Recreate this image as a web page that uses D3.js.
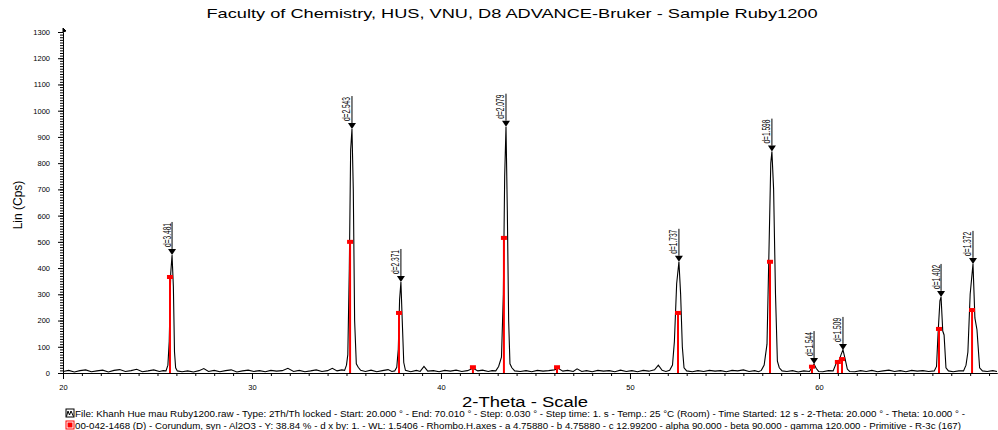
<!DOCTYPE html>
<html>
<head>
<meta charset="utf-8">
<script src="https://cdn.jsdelivr.net/npm/d3@7"></script>
<style>
  body { margin: 0; background: #fff; }
  text { font-family: "Liberation Sans", Arial, sans-serif; fill: #000; }
</style>
</head>
<body>
<script>
// ---- data ----
const title = "Faculty of Chemistry, HUS, VNU, D8 ADVANCE-Bruker - Sample Ruby1200";
const xTitle = "2-Theta - Scale";
const yTitle = "Lin (Cps)";
const legendLines = [
  "File: Khanh Hue mau Ruby1200.raw - Type: 2Th/Th locked - Start: 20.000 ° - End: 70.010 ° - Step: 0.030 ° - Step time: 1. s - Temp.: 25 °C (Room) - Time Started: 12 s - 2-Theta: 20.000 ° - Theta: 10.000 ° -",
  "00-042-1468 (D) - Corundum, syn - Al2O3 - Y: 38.84 % - d x by: 1. - WL: 1.5406 - Rhombo.H.axes - a 4.75880 - b 4.75880 - c 12.99200 - alpha 90.000 - beta 90.000 - gamma 120.000 - Primitive - R-3c (167)"
];

const xMajor = [20, 30, 40, 50, 60];
const yMajor = [0, 100, 200, 300, 400, 500, 600, 700, 800, 900, 1000, 1100, 1200, 1300];

// measured scan (2-theta, counts)
const scan = [
  [20.0, 6], [20.3, 10], [20.6, 4], [20.9, 9], [21.2, 12], [21.5, 5], [21.8, 8], [22.1, 11], [22.4, 4],
  [22.7, 10], [23.0, 13], [23.3, 6], [23.6, 9], [23.9, 14], [24.2, 5], [24.5, 8], [24.8, 12], [25.1, 6],
  [25.3, 9], [25.45, 8], [25.55, 30], [25.62, 120], [25.7, 380], [25.77, 450], [25.84, 330], [25.9, 80],
  [25.96, 20], [26.05, 8], [26.3, 5], [26.6, 8], [26.9, 4], [27.2, 9], [27.45, 17], [27.7, 6], [28.0, 10],
  [28.3, 5], [28.6, 9], [28.9, 12], [29.2, 4], [29.5, 8], [29.8, 11], [30.1, 6], [30.4, 9], [30.7, 5],
  [31.0, 10], [31.3, 7], [31.6, 9], [31.9, 18], [32.2, 6], [32.5, 10], [32.8, 5], [33.1, 8], [33.4, 12],
  [33.7, 6], [34.0, 9], [34.25, 18], [34.5, 8], [34.75, 12], [34.9, 10], [35.0, 30], [35.07, 70],
  [35.15, 400], [35.22, 850], [35.29, 930], [35.36, 700], [35.43, 200], [35.52, 35], [35.62, 22],
  [35.75, 10], [36.0, 6], [36.3, 11], [36.6, 5], [36.9, 9], [37.2, 13], [37.4, 6], [37.55, 8], [37.66, 22],
  [37.74, 90], [37.81, 280], [37.88, 347], [37.95, 200], [38.03, 40], [38.12, 10], [38.4, 5], [38.7, 10],
  [38.9, 6], [39.1, 25], [39.3, 7], [39.6, 9], [39.9, 5], [40.2, 10], [40.5, 7], [40.8, 11], [41.1, 6],
  [41.4, 9], [41.7, 18], [41.95, 8], [42.2, 11], [42.5, 6], [42.7, 9], [42.9, 8], [43.05, 25], [43.2, 60],
  [43.3, 300], [43.37, 750], [43.44, 939], [43.51, 620], [43.58, 200], [43.65, 35], [43.75, 20], [43.9, 8],
  [44.2, 6], [44.5, 9], [44.8, 5], [45.1, 10], [45.4, 7], [45.7, 9], [46.0, 12], [46.2, 18], [46.45, 7],
  [46.7, 10], [47.0, 6], [47.2, 16], [47.45, 6], [47.7, 9], [48.0, 5], [48.3, 10], [48.6, 7], [48.9, 9],
  [49.2, 5], [49.5, 11], [49.8, 6], [50.1, 9], [50.4, 5], [50.7, 10], [51.0, 7], [51.3, 12], [51.5, 30],
  [51.7, 10], [51.9, 6], [52.1, 10], [52.25, 30], [52.35, 120], [52.47, 340], [52.59, 424], [52.68, 300],
  [52.77, 100], [52.86, 20], [53.0, 8], [53.3, 5], [53.6, 9], [53.9, 6], [54.2, 10], [54.5, 7], [54.8, 9],
  [55.1, 5], [55.4, 10], [55.7, 8], [56.0, 12], [56.3, 6], [56.6, 9], [56.8, 5], [56.95, 10], [57.1, 30],
  [57.25, 110], [57.35, 450], [57.45, 800], [57.51, 844], [57.6, 700], [57.7, 300], [57.8, 45], [57.9, 20],
  [58.05, 8], [58.3, 6], [58.6, 9], [58.9, 4], [59.2, 8], [59.5, 6], [59.62, 20], [59.74, 34], [59.85, 18],
  [59.98, 6], [60.2, 5], [60.5, 9], [60.75, 8], [60.9, 35], [61.05, 45], [61.17, 70], [61.27, 88],
  [61.38, 55], [61.5, 15], [61.62, 6], [61.9, 5], [62.2, 9], [62.5, 6], [62.8, 10], [63.1, 5], [63.4, 8],
  [63.7, 11], [64.0, 6], [64.3, 9], [64.6, 5], [64.9, 10], [65.2, 7], [65.5, 9], [65.8, 6], [66.1, 8],
  [66.22, 25], [66.3, 150], [66.4, 275], [66.46, 290], [66.55, 160], [66.62, 145], [66.72, 20], [66.85, 8],
  [67.1, 5], [67.4, 8], [67.65, 8], [67.78, 30], [67.88, 80], [68.0, 300], [68.15, 416], [68.25, 210],
  [68.36, 165], [68.5, 20], [68.65, 8], [68.9, 6], [69.2, 9], [69.42, 6]
];

// labelled peaks
const peakPos = [25.77, 35.29, 37.88, 43.44, 52.59, 57.51, 59.74, 61.27, 66.46, 68.15];
const peakTop = [450, 930, 347, 939, 424, 844, 34, 88, 290, 416];
const peakD = ["d=3.481", "d=2.543", "d=2.371", "d=2.079", "d=1.737", "d=1.598", "d=1.544", "d=1.509", "d=1.402", "d=1.372"];

// Corundum 00-042-1468 reference sticks
const refPos = [25.66, 35.19, 37.78, 41.69, 43.33, 46.14, 52.54, 57.41, 59.63, 61.0, 61.22, 66.35, 68.1];
const refInt = [366, 500, 229, 22, 515, 22, 229, 424, 24, 42, 53, 168, 240];

// ---- drawing ----
const W = 998, H = 430;
const svg = d3.select("body").append("svg")
  .attr("width", W).attr("height", H);

const x = d3.scaleLinear().domain([20, 69.42]).range([63, 997]);
const y = d3.scaleLinear().domain([0, 1300]).range([373, 32]);

svg.append("text")
  .attr("x", 512).attr("y", 18)
  .attr("text-anchor", "middle")
  .attr("textLength", 611).attr("lengthAdjust", "spacingAndGlyphs")
  .style("font-size", "13.5px")
  .text(title);

// x axis: minor ticks every degree, major every 10
svg.append("g").attr("transform", "translate(0,373)")
  .call(d3.axisBottom(x).tickValues(d3.range(20, 70, 1)).tickSize(3).tickSizeOuter(0).tickFormat(""));
const xAx = svg.append("g").attr("transform", "translate(0,373)")
  .call(d3.axisBottom(x).tickValues(xMajor).tickSize(6).tickSizeOuter(0).tickPadding(6).tickFormat(d3.format("d")));
xAx.selectAll("text").style("font-size", "7.5px").style("font-family", "Liberation Sans, Arial");

// y axis: minor every 10, major every 100
svg.append("g").attr("transform", "translate(63,0)")
  .call(d3.axisLeft(y).tickValues(d3.range(0, 1301, 10)).tickSize(3).tickSizeOuter(0).tickFormat(""));
const yAx = svg.append("g").attr("transform", "translate(63,0)")
  .call(d3.axisLeft(y).tickValues(yMajor).tickSize(5).tickSizeOuter(0).tickPadding(8).tickFormat(d3.format("d")));
yAx.selectAll("text").style("font-size", "7.5px").style("font-family", "Liberation Sans, Arial");
svg.selectAll(".domain").attr("stroke", "#000");
svg.selectAll(".tick line").attr("stroke", "#000");

// arrow at the top of y axis
svg.append("path")
  .attr("d", "M63," + (y(1300) - 4) + "L63," + y(1300) + "L66," + (y(1300) - 1) + "Z")
  .attr("fill", "#000").attr("stroke", "#000").attr("stroke-width", 1);

svg.append("text")
  .attr("transform", "translate(22,205) rotate(-90)")
  .attr("text-anchor", "middle")
  .style("font-size", "12px")
  .text(yTitle);

svg.append("text")
  .attr("x", 525).attr("y", 407)
  .attr("text-anchor", "middle")
  .attr("textLength", 126).attr("lengthAdjust", "spacingAndGlyphs")
  .style("font-size", "14px")
  .text(xTitle);

// scan trace
const line = d3.line().x(d => x(d[0])).y(d => y(d[1]));
svg.append("path")
  .datum(scan)
  .attr("d", line)
  .attr("fill", "none")
  .attr("stroke", "#000")
  .attr("stroke-width", 1.1);

// reference sticks
const refs = svg.append("g");
refs.selectAll("line").data(refPos).join("line")
  .attr("x1", d => x(d)).attr("x2", d => x(d))
  .attr("y1", y(0)).attr("y2", (d, i) => y(refInt[i]))
  .attr("stroke", "#ff0000").attr("stroke-width", 2);
refs.selectAll("rect").data(refPos).join("rect")
  .attr("x", d => x(d) - 3).attr("y", (d, i) => y(refInt[i]) - 2)
  .attr("width", 6).attr("height", 4)
  .attr("fill", "#ff0000");

// peak markers with d-spacing labels
const pk = svg.append("g").selectAll("g").data(peakPos).join("g")
  .attr("transform", (d, i) => "translate(" + x(d) + "," + y(peakTop[i]) + ")");
pk.append("path").attr("d", "M0,0L-4,-6L4,-6Z").attr("fill", "#000");
pk.append("line").attr("x1", 0).attr("x2", 0).attr("y1", -6).attr("y2", -33)
  .attr("stroke", "#000").attr("stroke-width", 1);
pk.append("text")
  .attr("transform", "translate(-1.5,-8) rotate(-90)")
  .attr("textLength", 24).attr("lengthAdjust", "spacingAndGlyphs")
  .style("font-size", "11px")
  .text((d, i) => peakD[i]);

// legend
const lg = svg.append("g");
lg.append("rect").attr("x", 66).attr("y", 409).attr("width", 8).attr("height", 8)
  .attr("fill", "#fff").attr("stroke", "#000").attr("stroke-width", 1);
lg.append("path").attr("d", "M66.5,416.5L68,411L69.5,415L71,411L73.5,416.5")
  .attr("fill", "none").attr("stroke", "#000").attr("stroke-width", 1);
lg.append("rect").attr("x", 66).attr("y", 421).attr("width", 8).attr("height", 8)
  .attr("fill", "#fff").attr("stroke", "#ff0000").attr("stroke-width", 1);
lg.append("rect").attr("x", 67.5).attr("y", 422.5).attr("width", 5).attr("height", 5)
  .attr("fill", "#ff0000");
lg.selectAll("text.lgt").data(legendLines).join("text")
  .attr("class", "lgt")
  .attr("x", 75).attr("y", (d, i) => 416.5 + i * 12)
  .attr("textLength", (d, i) => i === 0 ? 890 : 886)
  .attr("lengthAdjust", "spacingAndGlyphs")
  .style("font-size", "8.5px")
  .text(d => d);
</script>
</body>
</html>
